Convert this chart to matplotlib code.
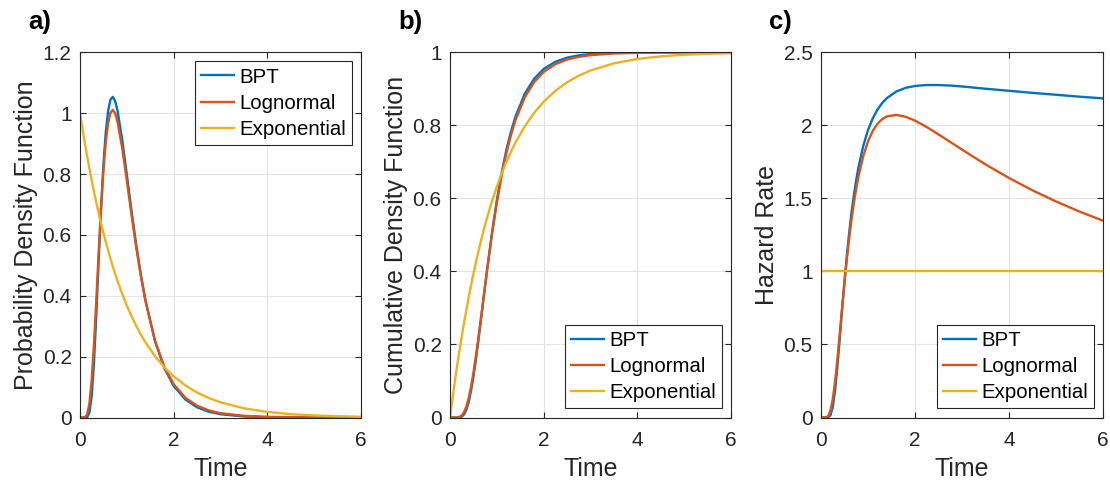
import matplotlib
matplotlib.use("Agg")
import matplotlib.pyplot as plt

# values
time = [0, 0.05, 0.1, 0.15, 0.2, 0.25, 0.3, 0.35, 0.4, 0.45, 0.5, 0.55, 0.6, 0.65,
        0.7, 0.75, 0.8, 0.9, 1.0, 1.1, 1.2, 1.3, 1.4, 1.6, 1.8, 2.0, 2.25, 2.5,
        2.75, 3.0, 3.5, 4.0, 4.5, 5.0, 5.5, 6.0]

bpt_pdf = [0, 0, 0.0000, 0.0009, 0.0148, 0.0709, 0.1852, 0.3446, 0.5214, 0.6891,
           0.8302, 0.9367, 1.0071, 1.0445, 1.0535, 1.0399, 1.0090, 0.9139, 0.7979,
           0.6791, 0.5678, 0.4687, 0.3833, 0.2514, 0.1623, 0.1038, 0.0590, 0.0334,
           0.0189, 0.0107, 0.0034, 0.0011, 0.0004, 0.0001, 0.0000, 0.0000]
logn_pdf = [0, 0, 0.0005, 0.0090, 0.0449, 0.1238, 0.2445, 0.3919, 0.5463, 0.6900,
            0.8113, 0.9041, 0.9668, 1.0012, 1.0108, 0.9998, 0.9728, 0.8865, 0.7783,
            0.6658, 0.5594, 0.4640, 0.3815, 0.2535, 0.1667, 0.1093, 0.0647, 0.0386,
            0.0233, 0.0142, 0.0055, 0.0022, 0.0010, 0.0004, 0.0002, 0.0001]
exp_pdf = [1.0, 0.9512, 0.9048, 0.8607, 0.8187, 0.7788, 0.7408, 0.7047, 0.6703,
           0.6376, 0.6065, 0.5769, 0.5488, 0.5220, 0.4966, 0.4724, 0.4493, 0.4066,
           0.3679, 0.3329, 0.3012, 0.2725, 0.2466, 0.2019, 0.1653, 0.1353, 0.1054,
           0.0821, 0.0639, 0.0498, 0.0302, 0.0183, 0.0111, 0.0067, 0.0041, 0.0025]

bpt_cdf = [0, 0, 0.0000, 0.0000, 0.0003, 0.0022, 0.0084, 0.0215, 0.0431, 0.0735,
           0.1116, 0.1559, 0.2046, 0.2561, 0.3086, 0.3610, 0.4123, 0.5087, 0.5944,
           0.6682, 0.7305, 0.7822, 0.8247, 0.8873, 0.9281, 0.9543, 0.9741, 0.9853,
           0.9917, 0.9953, 0.9985, 0.9995, 0.9998, 1.0000, 1.0000, 1.0000]
logn_cdf = [0, 0, 0.0000, 0.0002, 0.0014, 0.0054, 0.0145, 0.0303, 0.0538, 0.0847,
            0.1224, 0.1654, 0.2123, 0.2616, 0.3120, 0.3623, 0.4117, 0.5050, 0.5883,
            0.6605, 0.7217, 0.7727, 0.8149, 0.8776, 0.9190, 0.9462, 0.9675, 0.9801,
            0.9877, 0.9922, 0.9968, 0.9986, 0.9994, 0.9997, 0.9999, 0.9999]
exp_cdf = [0, 0.0488, 0.0952, 0.1393, 0.1813, 0.2212, 0.2592, 0.2953, 0.3297,
           0.3624, 0.3935, 0.4231, 0.4512, 0.4780, 0.5034, 0.5276, 0.5507, 0.5934,
           0.6321, 0.6671, 0.6988, 0.7275, 0.7534, 0.7981, 0.8347, 0.8647, 0.8946,
           0.9179, 0.9361, 0.9502, 0.9698, 0.9817, 0.9889, 0.9933, 0.9959, 0.9975]

bpt_haz = [0, 0, 0.0000, 0.0009, 0.0148, 0.0711, 0.1867, 0.3522, 0.5448, 0.7437,
           0.9345, 1.1097, 1.2663, 1.4040, 1.5237, 1.6274, 1.7169, 1.8604, 1.9672,
           2.0470, 2.1069, 2.1520, 2.1861, 2.2312, 2.2565, 2.2695, 2.2761, 2.2758,
           2.2725, 2.2662, 2.2506, 2.2366, 2.2222, 2.2094, 2.1961, 2.1847]
logn_haz = [0, 0, 0.0005, 0.0091, 0.0450, 0.1244, 0.2481, 0.4042, 0.5773, 0.7539,
            0.9244, 1.0832, 1.2273, 1.3559, 1.4692, 1.5680, 1.6537, 1.7907, 1.8903,
            1.9611, 2.0098, 2.0418, 2.0608, 2.0716, 2.0588, 2.0323, 1.9880, 1.9381,
            1.8861, 1.8340, 1.7324, 1.6398, 1.5551, 1.4788, 1.4097, 1.3472]
exp_haz_time = [0, 6]
exp_haz = [1.0, 1.0]

series_names = ["BPT", "Lognormal", "Exponential"]
panel_tags = ["a)", "b)", "c)"]
y_labels = ["Probability Density Function", "Cumulative Density Function", "Hazard Rate"]
x_ticks = [0, 2, 4, 6]
y_ticks_a = [0, 0.2, 0.4, 0.6, 0.8, 1.0, 1.2]
y_ticklabels_a = ["0", "0.2", "0.4", "0.6", "0.8", "1", "1.2"]
y_ticks_b = [0, 0.2, 0.4, 0.6, 0.8, 1.0]
y_ticklabels_b = ["0", "0.2", "0.4", "0.6", "0.8", "1"]
y_ticks_c = [0, 0.5, 1.0, 1.5, 2.0, 2.5]
y_ticklabels_c = ["0", "0.5", "1", "1.5", "2", "2.5"]

colors = ["#0072BD", "#D95319", "#EDB120"]
axis_col = "#262626"

plt.rcParams["font.family"] = ["Liberation Sans", "DejaVu Sans"]

fig = plt.figure(figsize=(11.1, 4.84), dpi=100)

W, H = 1110.0, 484.0
boxes = [(80, 361), (450, 731), (821, 1103)]
top_px, bot_px = 52.3, 417.5


def style_axes(ax, yticks, yticklabels, ylim):
    ax.set_xlim(0, 6)
    ax.set_ylim(*ylim)
    ax.set_xticks(x_ticks)
    ax.set_xticklabels([str(v) for v in x_ticks])
    ax.set_yticks(yticks)
    ax.set_yticklabels(yticklabels)
    ax.grid(True, color="#e3e3e3", linewidth=0.8)
    ax.set_axisbelow(True)
    ax.tick_params(direction="in", length=4, width=0.8, colors=axis_col,
                   labelsize=15, top=True, right=True)
    ax.tick_params(axis="x", pad=10)
    ax.tick_params(axis="y", pad=6)
    for sp in ax.spines.values():
        sp.set_color(axis_col)
        sp.set_linewidth(0.8)
    ax.set_xlabel("Time", fontsize=18, color=axis_col, labelpad=5)


axes = []
for (x0, x1) in boxes:
    ax = fig.add_axes([x0 / W, 1 - bot_px / H, (x1 - x0) / W, (bot_px - top_px) / H])
    axes.append(ax)

ax_a, ax_b, ax_c = axes
lw = 1.7

ax_a.plot(time, bpt_pdf, color=colors[0], lw=lw, label=series_names[0])
ax_a.plot(time, logn_pdf, color=colors[1], lw=lw, label=series_names[1])
ax_a.plot(time, exp_pdf, color=colors[2], lw=lw, label=series_names[2])
style_axes(ax_a, y_ticks_a, y_ticklabels_a, (0, 1.2))

ax_b.plot(time, bpt_cdf, color=colors[0], lw=lw, label=series_names[0])
ax_b.plot(time, logn_cdf, color=colors[1], lw=lw, label=series_names[1])
ax_b.plot(time, exp_cdf, color=colors[2], lw=lw, label=series_names[2])
style_axes(ax_b, y_ticks_b, y_ticklabels_b, (0, 1))

ax_c.plot(time, bpt_haz, color=colors[0], lw=lw, label=series_names[0])
ax_c.plot(time, logn_haz, color=colors[1], lw=lw, label=series_names[1])
ax_c.plot(exp_haz_time, exp_haz, color=colors[2], lw=lw, label=series_names[2])
style_axes(ax_c, y_ticks_c, y_ticklabels_c, (0, 2.5))

for ax, lab, tag, loc, (x0, x1) in zip(axes, y_labels, panel_tags,
                                       ["upper right", "lower right", "lower right"],
                                       boxes):
    ax.set_ylabel(lab, fontsize=18, color=axis_col, labelpad=3)
    leg = ax.legend(loc=loc, fontsize=14.7, frameon=True, fancybox=False,
                    edgecolor=axis_col, framealpha=1, handlelength=1.6,
                    handletextpad=0.25, borderpad=0.3, labelspacing=0.35,
                    borderaxespad=0.45)
    leg.get_frame().set_linewidth(0.8)
    for t in leg.get_texts():
        t.set_color("black")
    fig.text((x0 - 52) / W, 1 - 29.5 / H, tag, fontsize=18.5,
             fontweight="bold", ha="left", va="baseline", color="black")

fig.savefig("out.png", dpi=100)
